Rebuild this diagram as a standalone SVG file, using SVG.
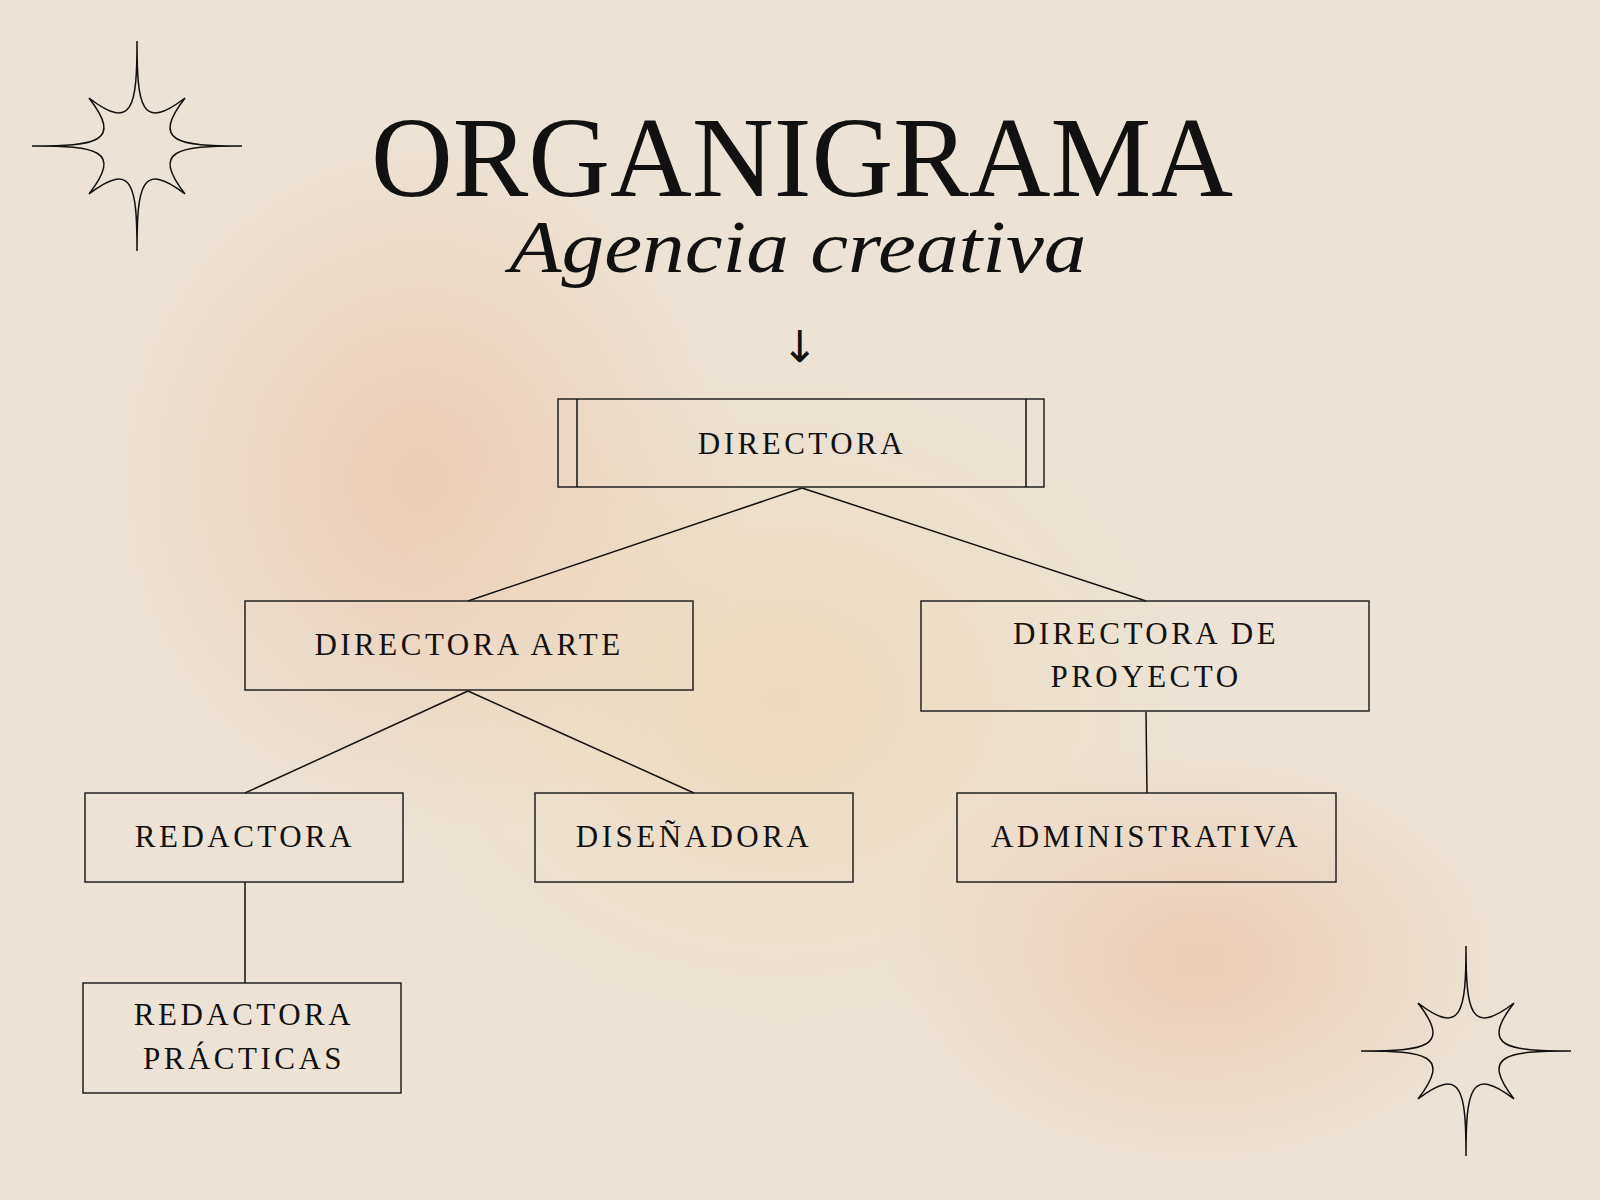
<svg xmlns="http://www.w3.org/2000/svg" width="1600" height="1200" viewBox="0 0 1600 1200">
<defs>
<radialGradient id="g1" cx="0.5" cy="0.5" r="0.5"><stop offset="0" stop-color="#eccbb3" stop-opacity="0.9"/><stop offset="1" stop-color="#eccbb3" stop-opacity="0"/></radialGradient>
<radialGradient id="g2" cx="0.5" cy="0.5" r="0.5"><stop offset="0" stop-color="#eed9bb" stop-opacity="0.9"/><stop offset="1" stop-color="#eed9bb" stop-opacity="0"/></radialGradient>
<path id="star" d="M0,-105 C0,-40 4,-14 48,-48 C14,-4 40,0 105,0 C40,0 14,4 48,48 C4,14 0,40 0,105 C0,40 -4,14 -48,48 C-14,4 -40,0 -105,0 C-40,0 -14,-4 -48,-48 C-4,-14 0,-40 0,-105Z" fill="none" stroke="#111" stroke-width="1.5"/>
<style>
.box{fill:none;stroke:#222;stroke-width:1.5}
.lbl{font-family:"Liberation Serif",serif;font-size:31px;letter-spacing:3.5px;fill:#111;text-anchor:middle}
.con{stroke:#111;stroke-width:1.5;fill:none}
</style>
</defs>
<rect width="1600" height="1200" fill="#ece3d6"/>
<ellipse cx="420" cy="480" rx="330" ry="360" fill="url(#g1)"/>
<ellipse cx="780" cy="700" rx="420" ry="340" fill="url(#g2)"/>
<ellipse cx="1200" cy="960" rx="320" ry="220" fill="url(#g1)"/>
<use href="#star" x="137" y="146"/>
<use href="#star" x="1466" y="1051"/>
<text x="802" y="196" font-family="Liberation Serif,serif" font-size="114" text-anchor="middle" fill="#111" textLength="862" lengthAdjust="spacingAndGlyphs">ORGANIGRAMA</text>
<text x="798" y="272" font-family="Liberation Serif,serif" font-style="italic" font-size="74" text-anchor="middle" fill="#111" textLength="577" lengthAdjust="spacingAndGlyphs">Agencia creativa</text>
<text x="800" y="362" font-family="DejaVu Sans,sans-serif" font-size="44" text-anchor="middle" fill="#111">↓</text>
<g id="connectors">
<path class="con" d="M802,488 L468,601 M802,488 L1146,601 M468,691 L245,793 M468,691 L694,793 M1146,712 L1147,793 M245,882 L245,983"/>
</g>
<g id="directora"><rect class="box" x="558" y="399" width="486" height="88"/><line class="con" x1="577" y1="399" x2="577" y2="487"/><line class="con" x1="1026" y1="399" x2="1026" y2="487"/><text class="lbl" x="802" y="454">DIRECTORA</text></g>
<g id="arte"><rect class="box" x="245" y="601" width="448" height="89"/><text class="lbl" x="469" y="655">DIRECTORA ARTE</text></g>
<g id="proyecto"><rect class="box" x="921" y="601" width="448" height="110"/><text class="lbl" x="1146" y="644">DIRECTORA DE</text><text class="lbl" x="1146" y="687">PROYECTO</text></g>
<g id="redactora"><rect class="box" x="85" y="793" width="318" height="89"/><text class="lbl" x="245" y="847">REDACTORA</text></g>
<g id="disenadora"><rect class="box" x="535" y="793" width="318" height="89"/><text class="lbl" x="694" y="847">DISEÑADORA</text></g>
<g id="administrativa"><rect class="box" x="957" y="793" width="379" height="89"/><text class="lbl" x="1146" y="847">ADMINISTRATIVA</text></g>
<g id="practicas"><rect class="box" x="83" y="983" width="318" height="110"/><text class="lbl" x="244" y="1025">REDACTORA</text><text class="lbl" x="244" y="1069">PRÁCTICAS</text></g>
</svg>
